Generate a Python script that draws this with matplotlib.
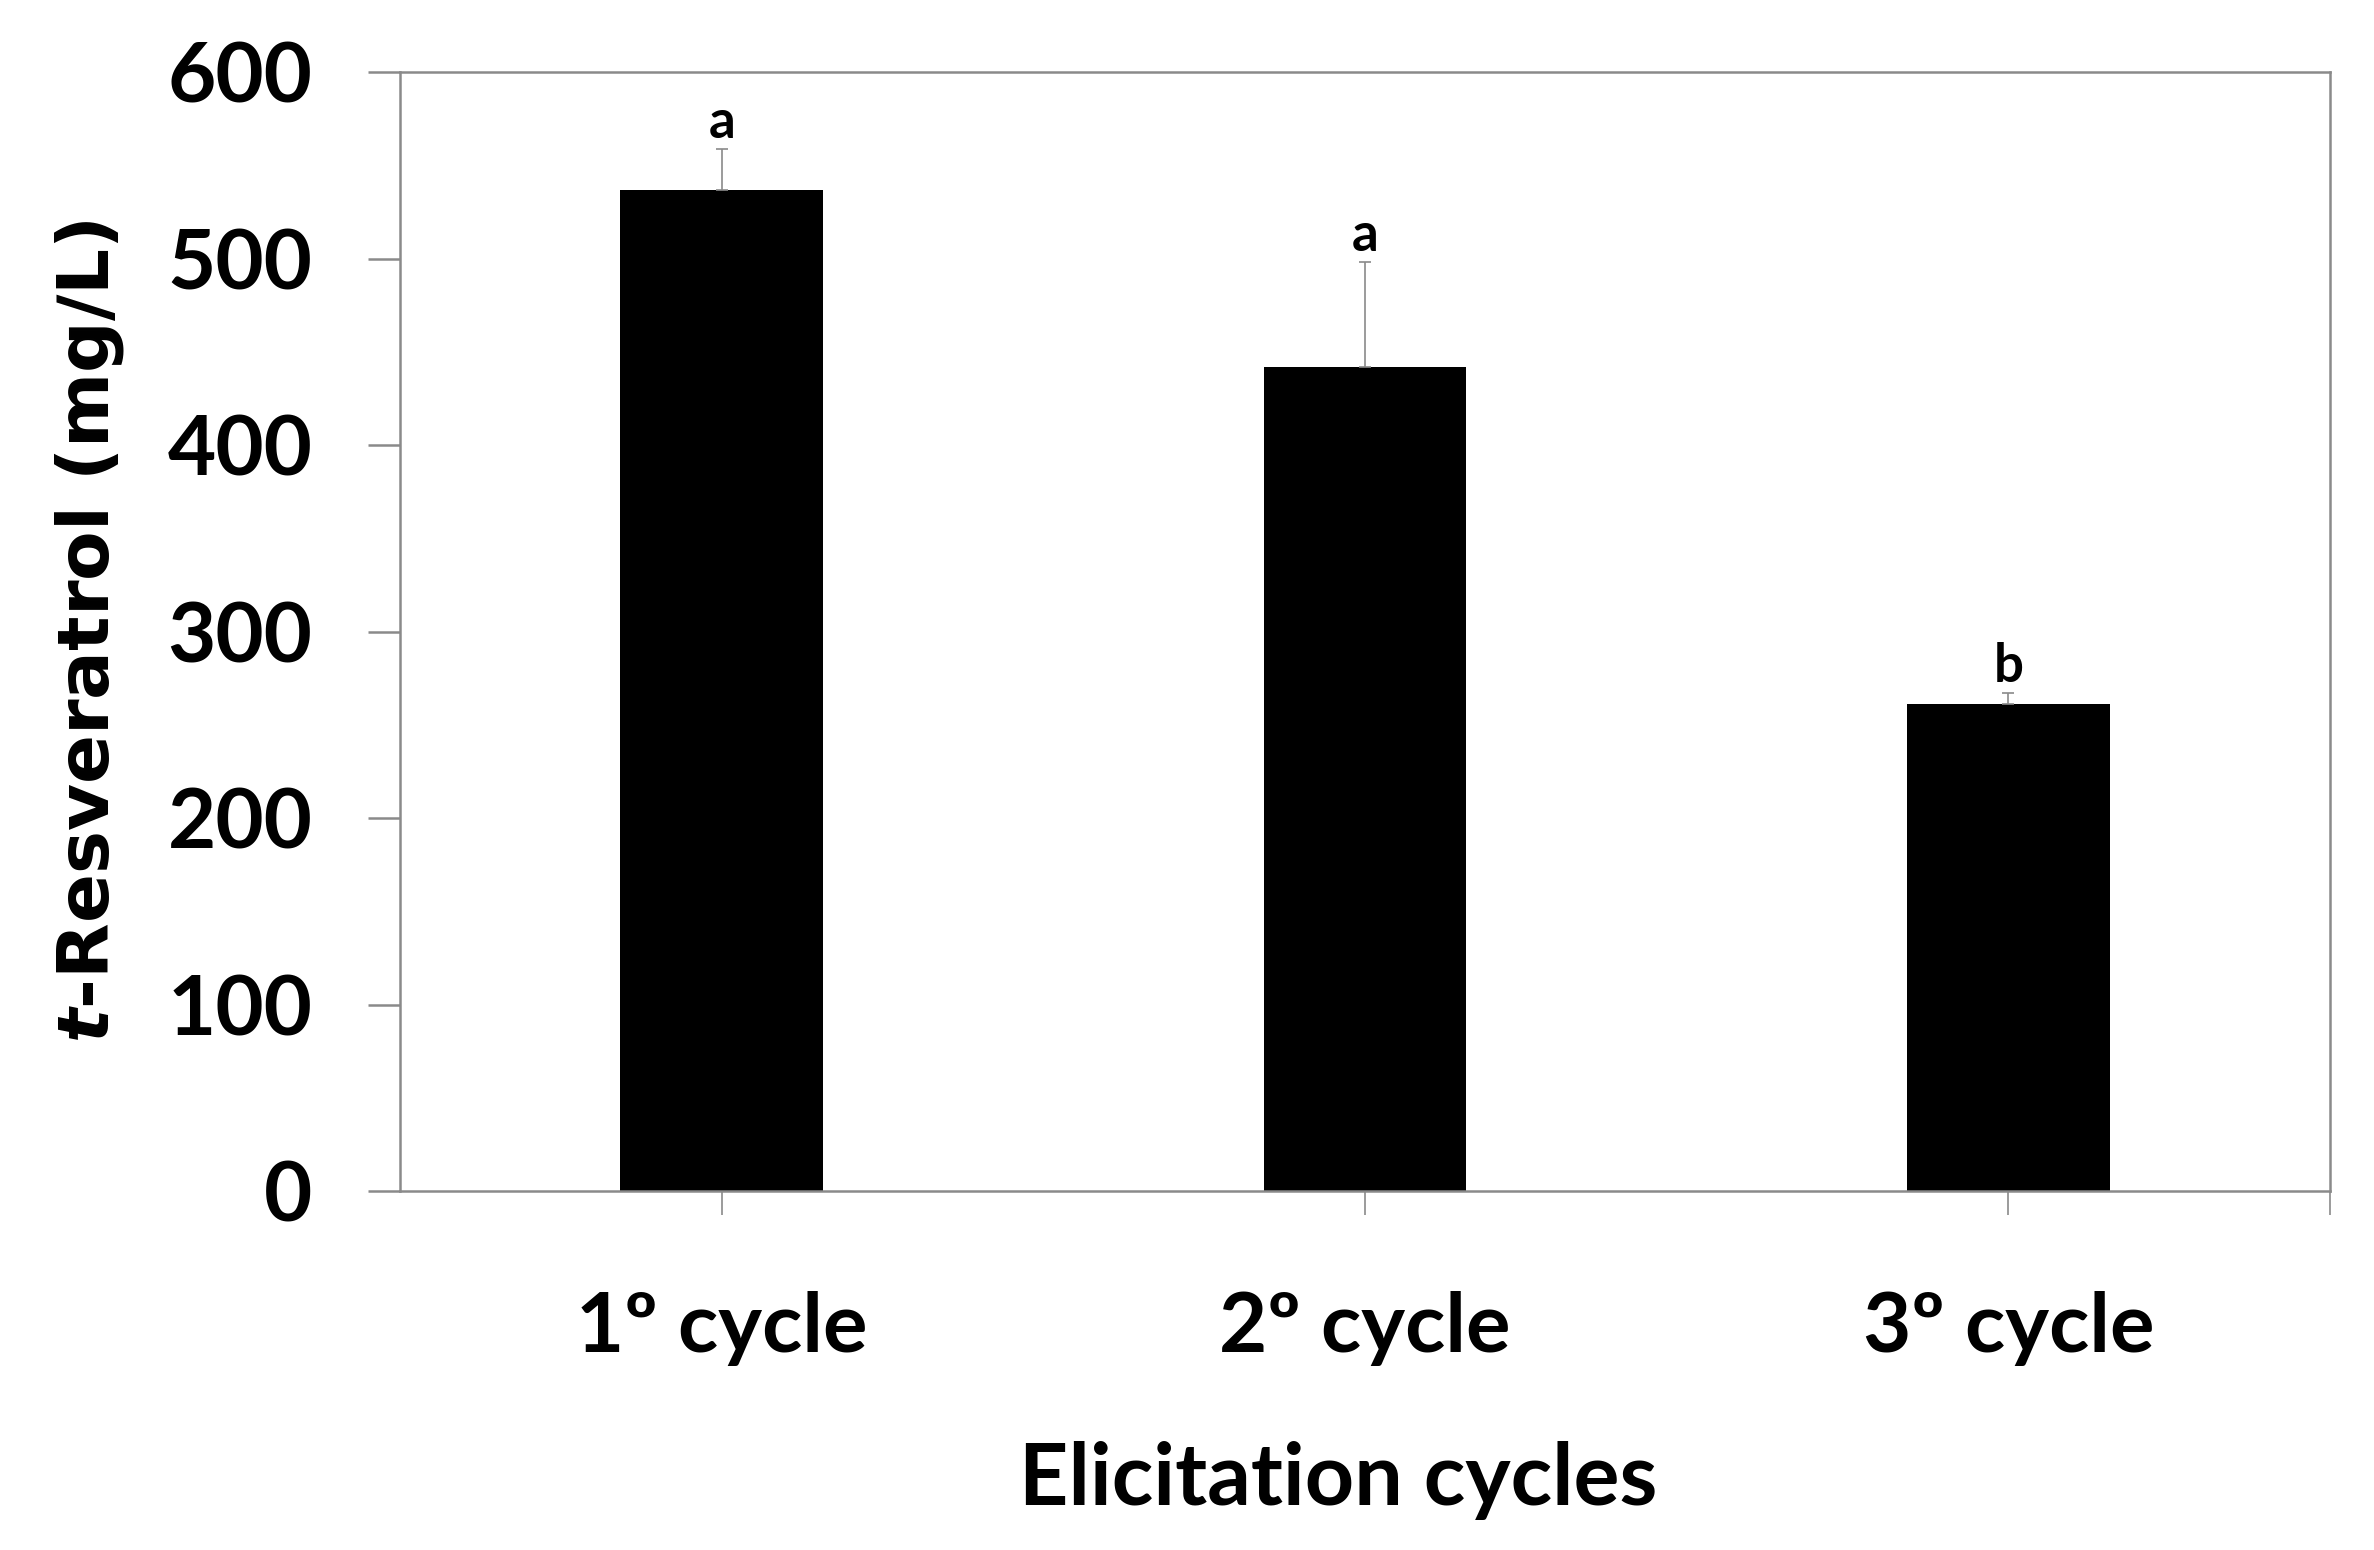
import numpy as np
import matplotlib.pyplot as plt

# Data
cycles = ["1º cycle", "2º cycle", "3º cycle"]
resveratrol = [537, 442, 261]
resveratrol_err = [22, 56, 6]
letters = ["a", "a", "b"]

axis_grey = "#8a8a8a"

fig = plt.figure(figsize=(23.74, 15.5), dpi=100)
ax = fig.add_axes([0.1685, 0.2316, 0.8130, 0.7219])

x = np.arange(len(cycles))
ax.bar(x, resveratrol, width=0.315, color="black", zorder=2)
ax.errorbar(x, resveratrol, yerr=[np.zeros(len(x)), resveratrol_err], fmt="none",
            ecolor=axis_grey, elinewidth=1.2, capsize=4, capthick=1.2, zorder=3)

for xi, v, e, lab in zip(x, resveratrol, resveratrol_err, letters):
    ax.text(xi, v + e + 1, lab, ha="center", va="bottom", fontsize=38,
            fontweight="bold", family="Lato")

ax.set_xlim(-0.5, 2.5)
ax.set_ylim(0, 600)
ax.set_yticks(range(0, 601, 100))
ax.set_xticks(x)
ax.set_xticklabels(cycles)
ax.set_xticks([2.5], minor=True)

for s in ax.spines.values():
    s.set_color(axis_grey)
    s.set_linewidth(1.8)

ax.tick_params(axis="y", direction="out", length=23, width=1.8, color=axis_grey,
               pad=40, labelsize=60)
ax.tick_params(axis="x", which="both", direction="out", length=17, width=1.2,
               color=axis_grey, pad=55, labelsize=60)
for lab in ax.get_xticklabels() + ax.get_yticklabels():
    lab.set_family("Lato")
    lab.set_fontweight("bold")

ax.set_xlabel("Elicitation cycles", fontsize=62, fontweight="bold", family="Lato",
              labelpad=54)
ax.xaxis.label.set_x(0.486)
ax.set_ylabel("$\\mathbfit{t}$-Resveratrol (mg/L)", fontsize=52, fontweight="bold",
              family="DejaVu Sans", labelpad=30)

fig.savefig("out.png", dpi=100)
